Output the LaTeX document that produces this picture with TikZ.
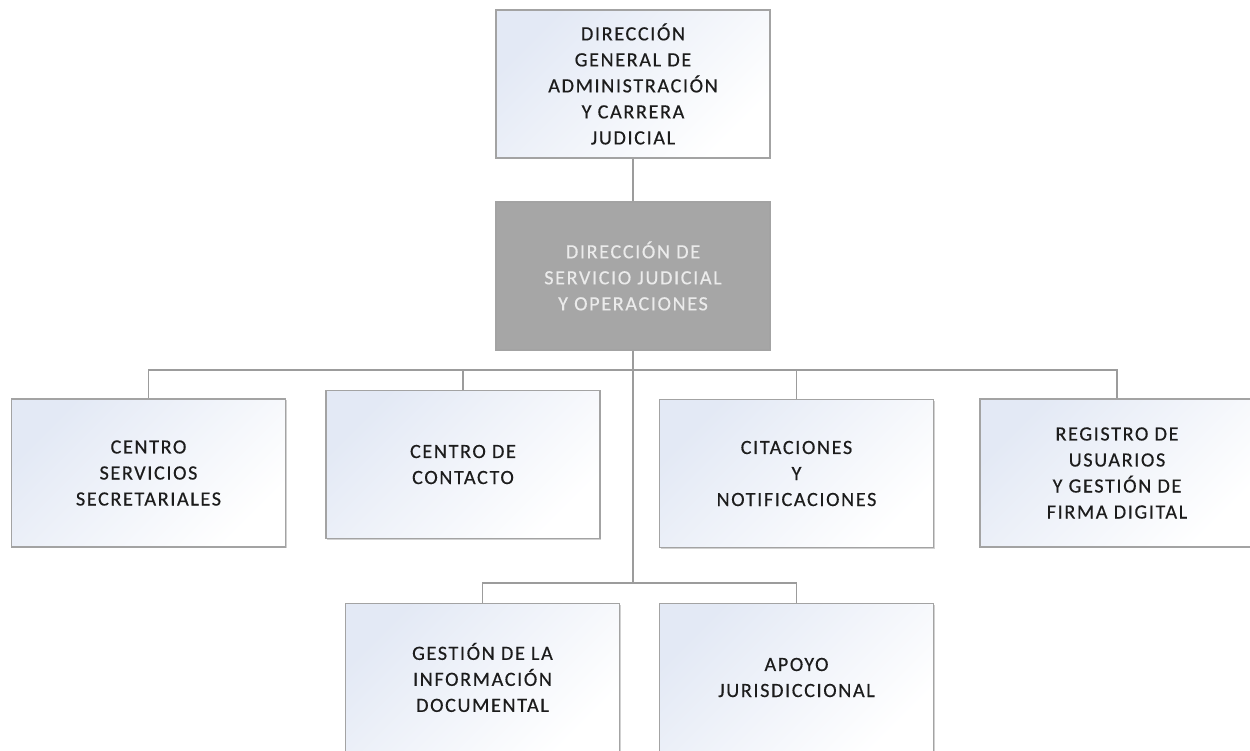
\documentclass[tikz,border=0pt]{standalone}
\usepackage{fontspec}
\setmainfont{Carlito}[LetterSpace=8, FakeBold=0.4]
\usepackage{tikz}
\usetikzlibrary{positioning, shadows, calc}
\usepackage{xcolor}
\definecolor{Tint}{HTML}{E3E9F5}
\definecolor{Frame}{HTML}{A3A3A3}
\definecolor{Link}{HTML}{9C9C9C}
\definecolor{Boss}{HTML}{A6A6A6}
\definecolor{BossText}{HTML}{EBEBEB}
\definecolor{Ink}{HTML}{1C1C1C}

\begin{document}
\begin{tikzpicture}[
    unit/.style={draw=Frame, line width=1.1pt, minimum width=5.48cm, minimum height=2.96cm, align=center, text=Ink,
        top color=Tint, bottom color=white, shading angle=45,
        general shadow={fill=black!18, shadow xshift=0.6pt, shadow yshift=-0.6pt}},
    head/.style={unit, shade=none, fill=Boss, text=BossText},
    link/.style={draw=Link, line width=1.1pt},
    every node/.style={font=\fontsize{11.5}{14.8}\selectfont}
]
\useasboundingbox (0,0) rectangle (25,-15);

% Direction levels
\node[unit] (dgacj) at (12.66,-1.68) {DIRECCIÓN\\GENERAL DE\\ADMINISTRACIÓN\\Y CARRERA\\JUDICIAL};
\node[head, below=0.84cm of dgacj] (dsjo) {DIRECCIÓN DE\\SERVICIO JUDICIAL\\Y OPERACIONES};

% First row of units
\node[unit] (css) at (2.97,-9.46) {CENTRO\\SERVICIOS\\SECRETARIALES};
\node[unit] (cdc) at (9.26,-9.29) {CENTRO DE\\CONTACTO};
\node[unit] (cyn) at (15.93,-9.47) {CITACIONES\\Y\\NOTIFICACIONES};
\node[unit] (rug) at (22.34,-9.46) {REGISTRO DE\\USUARIOS\\Y GESTIÓN DE\\FIRMA DIGITAL};

% Second row of units
\node[unit] (gid) at (9.65,-13.55) {GESTIÓN DE LA\\INFORMACIÓN\\DOCUMENTAL};
\node[unit] (ajr) at (15.93,-13.55) {APOYO\\JURISDICCIONAL};

\coordinate (bus) at (12.66,-7.40);
\coordinate (lowbus) at (12.66,-11.66);

\begin{scope}[on background layer/.try]
\draw[link] (dgacj) -- (dsjo);
\draw[link] (dsjo.south) -- (lowbus);
\foreach \n in {css,cdc,cyn,rug}
    \draw[link] (bus) -| (\n.north);
\foreach \n in {gid,ajr}
    \draw[link] (lowbus) -| (\n.north);
\end{scope}

\end{tikzpicture}
\end{document}
